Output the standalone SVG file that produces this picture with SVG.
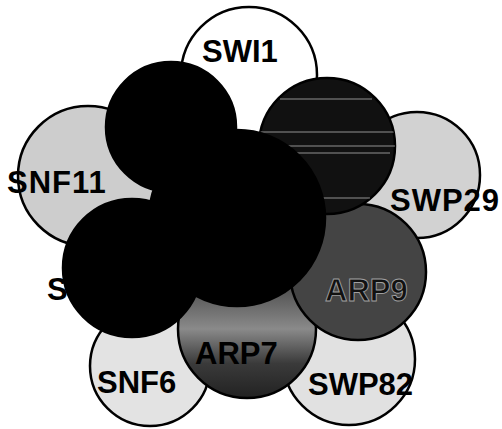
<svg xmlns="http://www.w3.org/2000/svg" width="502" height="429" viewBox="0 0 502 429">
<defs>
<style>
.c{stroke:#000;stroke-width:2.5}
.lbl{font-family:"Liberation Sans",Arial,sans-serif;font-weight:bold;font-size:31px;fill:#000}
.dk{fill:#111;stroke:#a0a0a0;stroke-width:0.9}
.stripe{stroke:#fff;stroke-width:1.2;opacity:0.55}
</style>
<linearGradient id="g7" x1="0" y1="0" x2="0" y2="1">
<stop offset="0" stop-color="#2a2a2a"/>
<stop offset="0.5" stop-color="#8a8a8a"/>
<stop offset="0.75" stop-color="#3a3a3a"/>
<stop offset="1" stop-color="#222"/>
</linearGradient>
<clipPath id="clipTR"><circle cx="327" cy="146" r="68"/></clipPath>
</defs>
<g id="SWI1"><circle class="c" cx="249" cy="75" r="68" fill="#fff"/><text class="lbl" x="202" y="62">SWI1</text></g>
<g id="SNF11"><circle class="c" cx="88" cy="176" r="70" fill="#cdcdcd"/><text class="lbl" x="7" y="193" letter-spacing="1">SNF11</text></g>
<g id="SWP29"><circle class="c" cx="417" cy="175" r="63" fill="#d2d2d2"/><text class="lbl" x="390" y="211" letter-spacing="1">SWP29</text></g>
<g id="SNF6"><circle class="c" cx="150" cy="366" r="60" fill="#e3e3e3"/><text class="lbl" x="97" y="393">SNF6</text></g>
<g id="SWP82"><circle class="c" cx="349" cy="359" r="66" fill="#e1e1e1"/><text class="lbl" x="308" y="395">SWP82</text></g>
<g id="ARP7"><circle class="c" cx="247" cy="329" r="69" fill="url(#g7)"/><text class="lbl" x="195" y="364">ARP7</text></g>
<g id="ARP9"><circle class="c" cx="358" cy="272" r="68" fill="#444"/><text class="lbl dk" x="325" y="301">ARP9</text></g>
<g id="SWI3"><circle class="c" cx="327" cy="146" r="68" fill="#111"/>
<g clip-path="url(#clipTR)">
<line class="stripe" x1="280" y1="99" x2="372" y2="99"/>
<line class="stripe" x1="258" y1="132" x2="395" y2="132"/>
<line class="stripe" x1="285" y1="146" x2="395" y2="146"/>
<line class="stripe" x1="295" y1="153" x2="390" y2="153"/>
<line class="stripe" x1="320" y1="198" x2="370" y2="198"/>
</g></g>
<g id="SWI2"><circle class="c" cx="171" cy="127" r="65" fill="#000"/></g>
<g id="SNF5"><text class="lbl" x="47" y="300">S</text></g>
<g id="SWI_core"><circle class="c" cx="237" cy="218" r="88" fill="#000"/></g>
<g id="SNF2"><circle class="c" cx="132" cy="268" r="69" fill="#000"/></g>
<g id="connectors"/>
</svg>
